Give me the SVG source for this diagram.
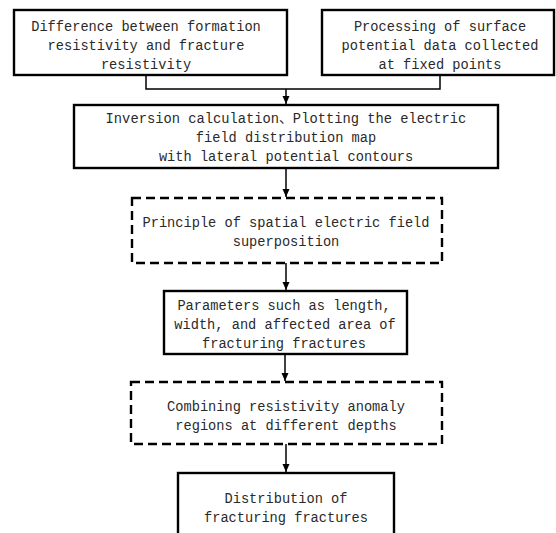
<svg xmlns="http://www.w3.org/2000/svg" width="556" height="533" viewBox="0 0 556 533">
<defs>
<style>
.box{fill:#fff;stroke:#000;stroke-width:2.4}
.dash{fill:none;stroke:#000;stroke-width:2.4;stroke-dasharray:9 5}
.conn{fill:none;stroke:#000;stroke-width:1.5}
text{font-family:'Liberation Mono','Cousine','Noto Sans CJK SC',monospace;font-size:14.5px;fill:#2a2a2a;text-anchor:middle}
</style>
<marker id="ah" markerUnits="userSpaceOnUse" markerWidth="8" markerHeight="10" refX="8" refY="3.5" orient="auto">
<path d="M0,0 L8,3.5 L0,7 Z" fill="#000"/>
</marker>
</defs>
<rect width="556" height="533" fill="#fff"/>
<g id="connectors">
<polyline class="conn" points="146,75 146,89 440,89 440,75"/>
<line class="conn" x1="286" y1="89" x2="286" y2="104" marker-end="url(#ah)"/>
<line class="conn" x1="286" y1="168" x2="286" y2="197" marker-end="url(#ah)"/>
<line class="conn" x1="286" y1="263" x2="286" y2="290" marker-end="url(#ah)"/>
<line class="conn" x1="285" y1="354" x2="285" y2="381" marker-end="url(#ah)"/>
<line class="conn" x1="286" y1="444" x2="286" y2="472" marker-end="url(#ah)"/>
</g>
<g id="n1">
<rect class="box" x="14" y="10" width="273" height="65"/>
<text x="146" y="31" textLength="229.6" lengthAdjust="spacingAndGlyphs">Difference between formation</text>
<text x="146" y="50" textLength="196.8" lengthAdjust="spacingAndGlyphs">resistivity and fracture</text>
<text x="146" y="69" textLength="90.2" lengthAdjust="spacingAndGlyphs">resistivity</text>
</g>
<g id="n2">
<rect class="box" x="322" y="10" width="232" height="65"/>
<text x="440" y="31" textLength="172.2" lengthAdjust="spacingAndGlyphs">Processing of surface</text>
<text x="440" y="50" textLength="196.8" lengthAdjust="spacingAndGlyphs">potential data collected</text>
<text x="440" y="69" textLength="123" lengthAdjust="spacingAndGlyphs">at fixed points</text>
</g>
<g id="n3">
<rect class="box" x="74" y="105" width="424" height="63"/>
<text x="286" y="123" textLength="360.8" lengthAdjust="spacingAndGlyphs">Inversion calculation、Plotting the electric</text>
<text x="286" y="142" textLength="180.4" lengthAdjust="spacingAndGlyphs">field distribution map</text>
<text x="286" y="161" textLength="254.2" lengthAdjust="spacingAndGlyphs">with lateral potential contours</text>
</g>
<g id="n4">
<rect class="dash" x="132" y="198" width="310" height="65"/>
<text x="286" y="227" textLength="287" lengthAdjust="spacingAndGlyphs">Principle of spatial electric field</text>
<text x="286" y="246" textLength="106.6" lengthAdjust="spacingAndGlyphs">superposition</text>
</g>
<g id="n5">
<rect class="box" x="164" y="291" width="243" height="63"/>
<text x="284" y="310" textLength="213.2" lengthAdjust="spacingAndGlyphs">Parameters such as length,</text>
<text x="285" y="329" textLength="221.4" lengthAdjust="spacingAndGlyphs">width, and affected area of</text>
<text x="284" y="348" textLength="164" lengthAdjust="spacingAndGlyphs">fracturing fractures</text>
</g>
<g id="n6">
<rect class="dash" x="131" y="382" width="311" height="62"/>
<text x="286" y="411" textLength="237.8" lengthAdjust="spacingAndGlyphs">Combining resistivity anomaly</text>
<text x="286" y="430" textLength="221.4" lengthAdjust="spacingAndGlyphs">regions at different depths</text>
</g>
<g id="n7">
<rect class="box" x="178" y="473" width="216" height="70"/>
<text x="286" y="503" textLength="123" lengthAdjust="spacingAndGlyphs">Distribution of</text>
<text x="286" y="522" textLength="164" lengthAdjust="spacingAndGlyphs">fracturing fractures</text>
</g>
</svg>
